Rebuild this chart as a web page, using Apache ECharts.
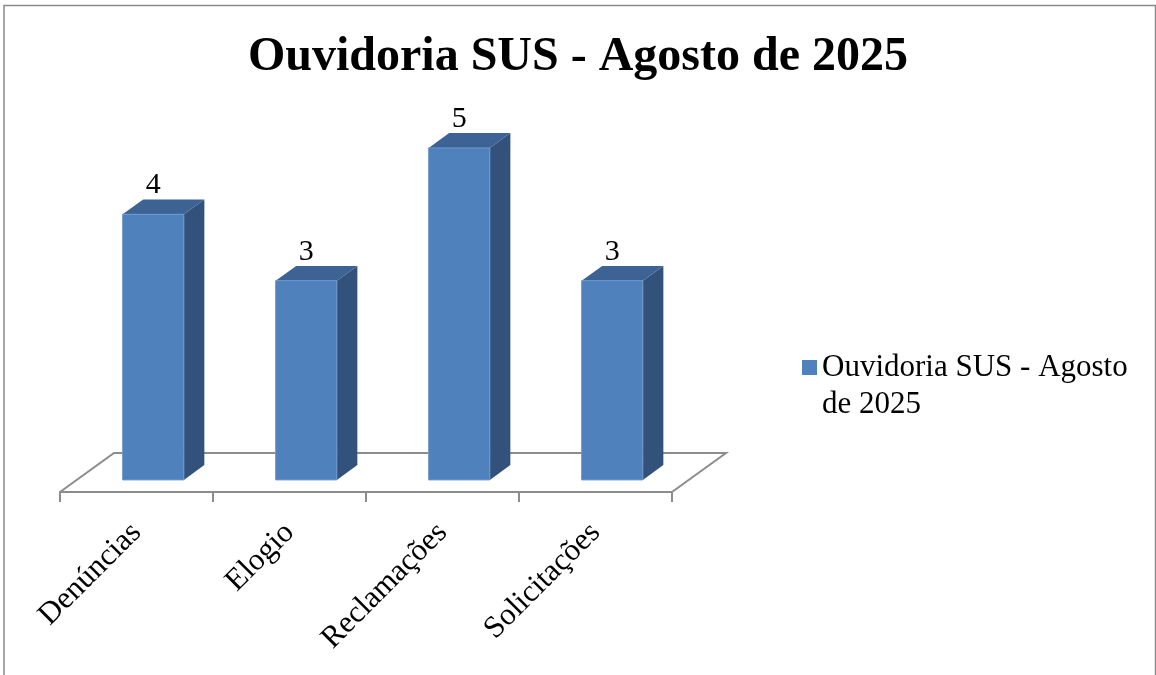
<!DOCTYPE html>
<html>
<head>
<meta charset="utf-8">
<script src="https://cdn.jsdelivr.net/npm/echarts@6/dist/echarts.min.js"></script>
<style>
html, body { margin: 0; padding: 0; background: #fff; }
#main { width: 1156px; height: 675px; }
</style>
</head>
<body>
<div id="main"></div>
<script>
var categorias = ['Denúncias', 'Elogio', 'Reclamações', 'Solicitações'];
var valores = [4, 3, 5, 3];
var nomeSerie = 'Ouvidoria SUS - Agosto de 2025';

var myChart = echarts.init(document.getElementById('main'));

// profundidade do piso em 3D (px)
var FUNDO_X = 54, FUNDO_Y = -39;
var fonte = '"Liberation Serif", "Times New Roman", serif';

function desenhaBarra(params, api) {
	var idx = api.value(0);
	var base = api.coord([idx, 0]);
	var topo = api.coord([idx, api.value(1)]);
	var bw = api.size([1, 0])[0];
	var w = bw * 0.4;
	var ox = FUNDO_X * 0.31, oy = FUNDO_Y * 0.31;
	var dx = FUNDO_X * 0.38, dy = FUNDO_Y * 0.38;
	var x0 = base[0] - w / 2 + ox, x1 = x0 + w;
	var yb = base[1] + oy, yt = topo[1] + oy;
	return {
		type: 'group',
		children: [
			{ type: 'polygon', shape: { points: [[x1, yt], [x1 + dx, yt + dy], [x1 + dx, yb + dy], [x1, yb]] },
				style: { fill: '#32527c' } },
			{ type: 'polygon', shape: { points: [[x0, yt], [x0 + dx, yt + dy], [x1 + dx, yt + dy], [x1, yt]] },
				style: { fill: '#3c6394' } },
			{ type: 'rect', shape: { x: x0, y: yt, width: w, height: yb - yt },
				style: { fill: '#4f81bd', stroke: '#6d97cb', lineWidth: 1 } },
			{ type: 'text', style: { text: String(api.value(1)), x: (x0 + x1) / 2, y: yt + dy + 1,
				align: 'center', verticalAlign: 'bottom', fontSize: 30, fontFamily: fonte, fill: '#000' } }
		]
	};
}

function desenhaPiso(params, api) {
	var c = api.coord([0, 0]);
	var bw = api.size([1, 0])[0];
	var esq = c[0] - bw / 2, dir = esq + bw * categorias.length, y = c[1];
	return {
		type: 'polyline',
		shape: { points: [[esq, y], [esq + FUNDO_X, y + FUNDO_Y], [dir + FUNDO_X, y + FUNDO_Y], [dir, y]] },
		style: { stroke: '#8c8c8c', lineWidth: 2, fill: null }
	};
}

var option = {
	backgroundColor: '#fff',
	title: {
		text: nomeSerie,
		left: 'center',
		top: 29,
		textStyle: { fontFamily: fonte, fontSize: 48, fontWeight: 'bold', color: '#000' }
	},
	legend: {
		data: [nomeSerie],
		left: 797,
		top: 344,
		// quadrado no alto de uma caixa de duas linhas
		icon: 'path://M0,0H15V15H0Z M0,52L0.01,52',
		itemWidth: 15,
		itemHeight: 52,
		itemGap: 6,
		textStyle: {
			fontFamily: fonte, fontSize: 31, color: '#000',
			width: 330, overflow: 'break', lineHeight: 37
		}
	},
	grid: { left: 60, right: 484, top: 160, bottom: 183 },
	xAxis: {
		type: 'category',
		data: categorias,
		axisLine: { show: true, lineStyle: { color: '#8c8c8c', width: 2 } },
		axisTick: { show: true, length: 10, lineStyle: { color: '#8c8c8c', width: 2 } },
		axisLabel: { rotate: 45, margin: 36, fontFamily: fonte, fontSize: 31, color: '#000' }
	},
	yAxis: { type: 'value', min: 0, max: 5, show: false },
	graphic: [{
		type: 'rect',
		shape: { x: 4, y: 5.5, width: 1151.5, height: 680 },
		style: { fill: null, stroke: '#8a8a8a', lineWidth: 1.5 },
		silent: true
	}],
	series: [{
		name: 'piso',
		type: 'custom',
		silent: true,
		z: 1,
		renderItem: desenhaPiso,
		data: [[0, 0]]
	}, {
		name: nomeSerie,
		type: 'custom',
		z: 2,
		itemStyle: { color: '#4f81bd' },
		renderItem: desenhaBarra,
		encode: { x: 0, y: 1 },
		data: valores.map(function (v, i) { return [i, v]; })
	}]
};

myChart.setOption(option);
</script>
</body>
</html>
